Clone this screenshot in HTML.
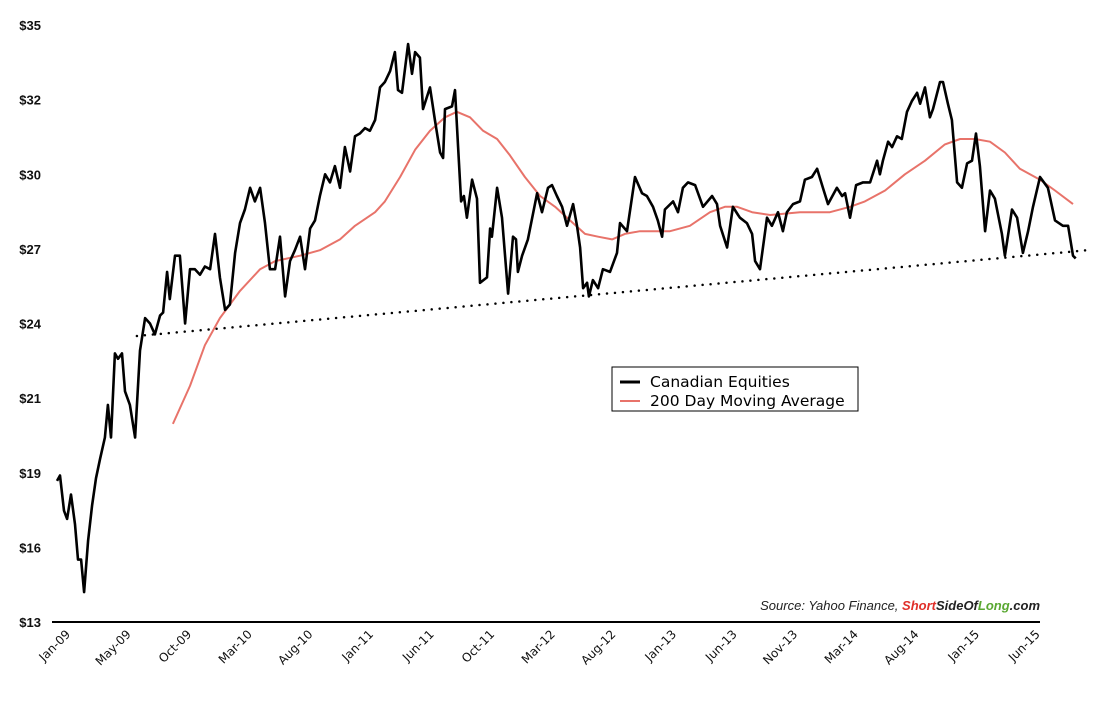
<!DOCTYPE html>
<html><head><meta charset="utf-8">
<style>
html,body{margin:0;padding:0;background:#fff;}
svg{display:block;font-family:"Liberation Sans",sans-serif;}
</style></head>
<body>
<svg id="chart" width="1108" height="702" viewBox="0 0 1108 702" xmlns="http://www.w3.org/2000/svg">
<g id="yaxis"></g>
<g id="xaxis"></g>
<g id="plot"></g>
<g>
<rect x="612" y="367" width="246" height="44" fill="#fff" stroke="#000" stroke-width="1"/>
<line x1="620" y1="382" x2="640" y2="382" stroke="#000" stroke-width="3"/>
<text x="650" y="387" font-size="15.5" font-family="DejaVu Sans, sans-serif" fill="#000">Canadian Equities</text>
<line x1="620" y1="401" x2="640" y2="401" stroke="#e8736a" stroke-width="2"/>
<text x="650" y="406" font-size="15.5" font-family="DejaVu Sans, sans-serif" fill="#000">200 Day Moving Average</text>
</g>
<text x="1040" y="610" font-size="13" font-style="italic" text-anchor="end"><tspan fill="#222">Source: Yahoo Finance, </tspan><tspan fill="#e0302a" font-weight="bold">Short</tspan><tspan fill="#222" font-weight="bold">SideOf</tspan><tspan fill="#5aa832" font-weight="bold">Long</tspan><tspan fill="#222" font-weight="bold">.com</tspan></text>
</svg>
<script>
const yTickValues=[13,15.75,18.5,21.25,24,26.75,29.5,32.25,35];
const yTickLabels=["$13","$16","$19","$21","$24","$27","$30","$32","$35"];
const xTickLabels=["Jan-09","May-09","Oct-09","Mar-10","Aug-10","Jan-11","Jun-11","Oct-11","Mar-12","Aug-12","Jan-13","Jun-13","Nov-13","Mar-14","Aug-14","Jan-15","Jun-15"];
const eqWeeks=[0,1,2.3,3.3,4.6,5.9,6.9,7.9,8.9,10.2,11.5,12.8,14.1,15.7,16.7,17.7,19,20,21.3,22.3,23.9,25.6,27.2,28.9,30.5,32.1,33.8,34.8,36.1,37,38.7,40.3,42,43.6,45.2,46.9,48.5,50.2,51.8,53.4,55.1,56.7,58.4,60,61.6,63.3,64.9,66.6,68.2,69.8,71.5,73.1,74.8,76.4,78,79.7,81.3,83,84.6,86.2,87.9,89.5,91.1,92.8,94.4,96.1,97.7,99.3,101,102.6,104.3,105.9,107.5,109.2,110.8,111.8,113.1,115.1,116.4,117.4,119,120,122.3,123.9,125.6,126.6,127.2,129.5,130.5,131.5,132.5,133.4,134.4,136.1,137.7,138.7,141,142,142.6,144.3,145.9,147.9,149.5,150.5,151.1,152.5,154.4,157.4,159,161,162.3,163.9,165.6,167.2,169.2,170.5,171.5,172.5,173.8,174.4,175.7,177.4,179,181.3,183.6,184.6,186.9,189.5,191.8,193.4,195.4,197,198.4,199.3,202,203.6,205.2,206.9,209.2,211.8,214.8,216.4,217.4,219.7,221.6,223.3,223.9,226.2,227.9,228.9,230.5,232.8,234.4,236.4,238,239.3,241.3,243.6,245.2,247.5,249.2,251.1,252.8,255.7,257.4,258.4,260,262,264.3,266.6,268.9,269.8,270.8,272.5,273.8,275.4,277,278.7,280.3,282,283,284.6,286.2,287.2,289.5,290.5,292.1,293.4,295.1,296.7,298.4,300,301.3,302.6,304.3,305.9,307.5,309.8,310.8,313.1,314.8,316.7,318.4,320,322.3,324.9,327.2,329.8,331.5,333.1,334];
const eqValues=[18.2,18.4,17.1,16.8,17.7,16.6,15.3,15.3,14.1,16,17.3,18.3,19,19.8,21,19.8,22.9,22.7,22.9,21.5,21,19.8,23,24.2,24,23.6,24.3,24.4,25.9,24.9,26.5,26.5,24,26,26,25.8,26.1,26,27.3,25.7,24.5,24.7,26.6,27.7,28.2,29,28.5,29,27.7,26,26,27.2,25,26.3,26.7,27.2,26,27.5,27.8,28.7,29.5,29.2,29.8,29,30.5,29.6,30.9,31,31.2,31.1,31.5,32.7,32.9,33.3,34.0,32.6,32.5,34.3,33.2,34.0,33.8,31.9,32.7,31.5,30.3,30.1,31.9,32.0,32.6,30.5,28.5,28.7,27.9,29.3,28.6,25.5,25.7,27.5,27.2,29.0,27.9,25.1,27.2,27.1,25.9,26.5,27.1,28.8,28.1,29.0,29.1,28.7,28.3,27.6,28.4,27.6,26.8,25.3,25.5,25.0,25.6,25.3,26.0,25.9,26.6,27.7,27.4,29.4,28.8,28.7,28.3,27.8,27.2,28.2,28.5,28.1,29.0,29.2,29.1,28.3,28.7,28.4,27.6,26.8,28.3,28.0,27.9,27.7,27.3,26.3,26.0,27.9,27.6,28.1,27.4,28.1,28.4,28.5,29.3,29.4,29.7,29.0,28.4,29.0,28.7,28.8,27.9,29.1,29.2,29.2,30.0,29.5,30.0,30.7,30.5,30.9,30.8,31.8,32.2,32.5,32.1,32.7,31.6,31.9,32.9,32.9,32.1,31.5,29.2,29.0,29.9,30.0,31.0,29.8,27.4,28.9,28.6,27.3,26.5,28.2,27.9,26.6,27.4,28.3,29.4,29.0,27.8,27.6,27.6,26.5,26.4];
const maWeeks=[38,43.6,48.5,53.4,60,66.6,71.5,79.7,86.2,92.8,97.7,104.3,107.5,112.5,117.4,122.3,127.2,131.1,135.4,139.7,144.3,148.5,153.4,158.4,163.3,168.2,173.1,177.4,182,186.2,191.1,196.1,201,207.5,214.1,219,223,227.9,233.8,243.6,253.4,260,264.9,271.5,278,284.6,291.1,296.1,301,305.9,310.8,315.7,322.3,327.2,333.1];
const maValues=[20.3,21.7,23.2,24.2,25.2,26.0,26.3,26.5,26.7,27.1,27.6,28.1,28.5,29.4,30.4,31.1,31.6,31.8,31.6,31.1,30.8,30.2,29.4,28.7,28.3,27.8,27.3,27.2,27.1,27.3,27.4,27.4,27.4,27.6,28.1,28.3,28.3,28.1,28.0,28.1,28.1,28.3,28.5,28.9,29.5,30.0,30.6,30.8,30.8,30.7,30.3,29.7,29.3,28.9,28.4];
const trendWeeks=[26.2,338.7];
const trendValues=[23.54,26.71];

const NS="http://www.w3.org/2000/svg";
function xScale(w){return 57+w*3.05;}
function yScale(v){return 622-(v-13)*(597/22);}
function mk(tag,attrs,parent){const e=document.createElementNS(NS,tag);for(const k in attrs)e.setAttribute(k,attrs[k]);parent.appendChild(e);return e;}
const yax=document.getElementById('yaxis'),xax=document.getElementById('xaxis'),plot=document.getElementById('plot');
yTickValues.forEach((v,i)=>{
  const t=mk('text',{x:41,y:yScale(v)+5,'font-size':13,'font-weight':'bold','text-anchor':'end',fill:'#111'},yax);
  
  
  t.textContent=yTickLabels[i];
});
const axl=mk('line',{x1:52,y1:622,x2:1040,y2:622,stroke:'#000','stroke-width':2},xax);


xTickLabels.forEach((s,i)=>{
  const x=71+i*60.6,y=635;
  const t=mk('text',{x:x,y:y,'font-size':12,'font-family':'DejaVu Sans, sans-serif','text-anchor':'end',fill:'#111',transform:'rotate(-45 '+x+' '+y+')'},xax);
  
  
  t.textContent=s;
});
const tr=mk('line',{x1:xScale(trendWeeks[0]),y1:yScale(trendValues[0]),x2:xScale(trendWeeks[1]),y2:yScale(trendValues[1]),stroke:'#000','stroke-width':2.5,'stroke-dasharray':'0 8','stroke-linecap':'round'},plot);


function pts(ws,vs){return ws.map((w,i)=>xScale(w).toFixed(1)+','+yScale(vs[i]).toFixed(1)).join(' ');}
const ma=mk('polyline',{points:pts(maWeeks,maValues),fill:'none',stroke:'#e8736a','stroke-width':2,'stroke-linejoin':'round'},plot);


const eq=mk('polyline',{points:pts(eqWeeks,eqValues),fill:'none',stroke:'#000','stroke-width':2.6,'stroke-linejoin':'round'},plot);


</script>
</body></html>
